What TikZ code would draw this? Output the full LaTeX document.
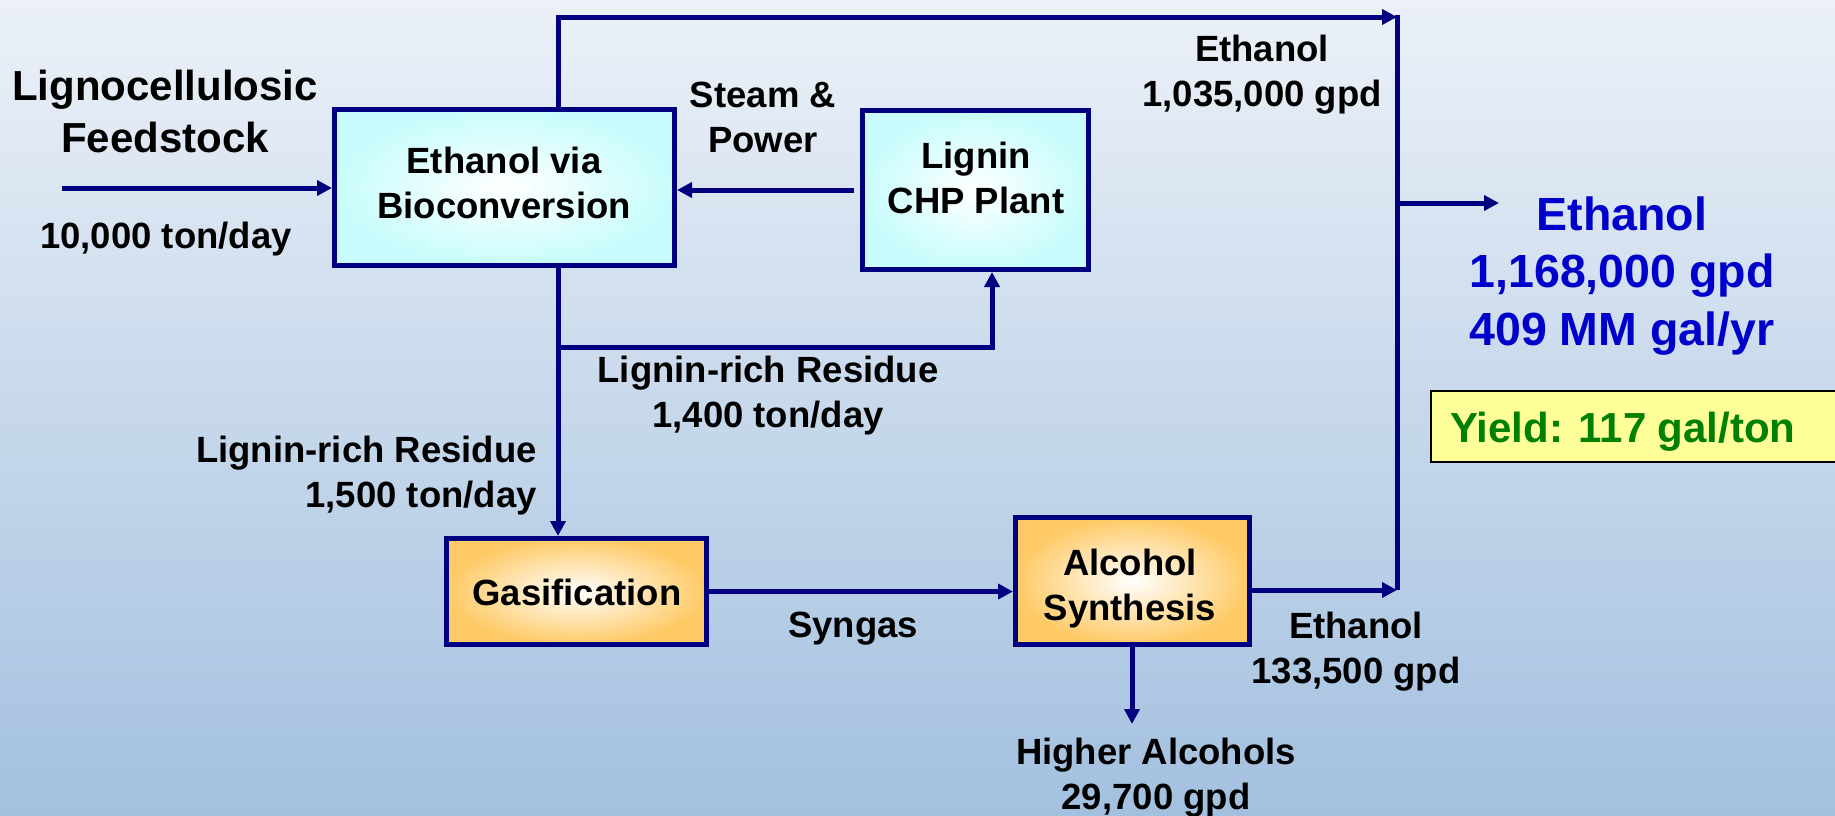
\documentclass[tikz,border=0pt]{standalone}
\usepackage{fontspec}
\setmainfont{Liberation Sans}
\usetikzlibrary{arrows.meta,calc}
\definecolor{navy}{HTML}{000080}
\definecolor{bgtop}{HTML}{ECF1F8}
\definecolor{bgbot}{HTML}{A3C0DF}
\definecolor{cyanfill}{HTML}{C8FCFC}
\definecolor{orangefill}{HTML}{FFCA66}
\definecolor{bigblue}{HTML}{0000CC}
\definecolor{yieldgreen}{HTML}{008000}
\definecolor{yieldfill}{HTML}{FFFF99}
\tikzset{
  flow/.style={draw=navy, line width=5pt},
  arr/.style={-{Triangle[width=15pt,length=15pt]}},
  procbox/.style={draw=navy, line width=5pt, inner sep=0pt},
  cbox/.style={procbox, inner color=white, outer color=cyanfill},
  obox/.style={procbox, inner color=white, outer color=orangefill},
  lbl/.style={font=\fontsize{36.5}{45}\selectfont\bfseries, align=center, inner sep=0pt, anchor=north},
  feedlbl/.style={font=\fontsize{42}{52}\selectfont\bfseries, align=center, inner sep=0pt, anchor=north},
  biglbl/.style={font=\fontsize{46.5}{57.5}\selectfont\bfseries, text=bigblue, align=center, inner sep=0pt, anchor=north},
  yieldbox/.style={draw=black, line width=2pt, fill=yieldfill, inner sep=0pt, anchor=north west},
  yieldlbl/.style={font=\fontsize{42}{50}\selectfont\bfseries, text=yieldgreen, inner sep=0pt, anchor=base west}
}
\begin{document}
\begin{tikzpicture}[x=1pt,y=-1pt]
\useasboundingbox (0,0) rectangle (1835,815);
\shade[top color=bgtop, bottom color=bgbot] (0,0) rectangle (1835,815);

% process boxes
\node[cbox, minimum width=340pt, minimum height=156pt] (bio) at (504.5,187.5) {};
\node[cbox, minimum width=226pt, minimum height=159pt] (chp) at (975.5,190) {};
\node[obox, minimum width=260pt, minimum height=106pt] (gas) at (576.5,591.5) {};
\node[obox, minimum width=234pt, minimum height=127pt] (alc) at (1132.5,581) {};

% box labels
\node[lbl] (biolbl) at (504,147) {Ethanol via\\Bioconversion};
\node[lbl] (chplbl) at (976,142) {Lignin\\CHP Plant};
\node[lbl, anchor=base] (gaslbl) at (577,605) {Gasification};
\node[lbl] (alclbl) at (1130,549) {Alcohol\\Synthesis};

% connector coordinates
\coordinate (feedS) at (62,188);
\coordinate (trunk) at (558,17);
\coordinate (busTop) at (1397,17);
\coordinate (busTopEnd) at (1397,14.5);
\coordinate (busBot) at (1397,590);
\coordinate (busOut) at (1397,203);
\coordinate (outTip) at (1499,203);
\coordinate (brL) at (558,347);
\coordinate (brR) at (992,347);
\coordinate (haTip) at (1132,724);

% connectors
\draw[flow,arr] (feedS) -- (feedS -| bio.west);
\draw[flow,arr] (bio.north -| trunk) -- (trunk) -- (busTop);
\draw[flow] (busTopEnd) -- (busBot);
\draw[flow,arr,shorten <=6pt] (chp.west) -- (chp.west -| bio.east);
\draw[flow,arr] (bio.south -| trunk) -- (trunk |- gas.north);
\draw[flow,arr] (brL) -- (brR) -- (brR |- chp.south);
\draw[flow,arr] (gas.east) -- (gas.east -| alc.west);
\draw[flow,arr] (alc.east |- busBot) -- (busBot);
\draw[flow,arr] (busOut) -- (outTip);
\draw[flow,arr] (alc.south -| haTip) -- (haTip);

% flow labels
\node[feedlbl] (feedname) at (165,70) {Lignocellulosic\\Feedstock};
\node[lbl] (feedrate) at (166,222) {10,000 ton/day};
\node[lbl] (steam) at (763,82) {Steam \&\\Power};
\node[lbl] (etop) at (1262,35) {Ethanol\\1,035,000 gpd};
\node[lbl] (res1400) at (768,356) {Lignin-rich Residue\\1,400 ton/day};
\node[lbl, align=right, anchor=north east] (res1500) at (537,436) {Lignin-rich Residue\\1,500 ton/day};
\node[lbl, anchor=base] (syngas) at (853,637) {Syngas};
\node[lbl] (ebot) at (1356,612) {Ethanol\\133,500 gpd};
\node[lbl] (higher) at (1156,738) {Higher Alcohols\\29,700 gpd};

% output summary
\node[biglbl] (total) at (1622,196.5) {Ethanol\\1,168,000 gpd\\409 MM gal/yr};
\node[yieldbox, minimum width=460pt, minimum height=71pt] (yield) at (1430,390) {};
\node[yieldlbl] (yieldtxt) at (1450,442) {Yield: 117 gal/ton};
\end{tikzpicture}
\end{document}
